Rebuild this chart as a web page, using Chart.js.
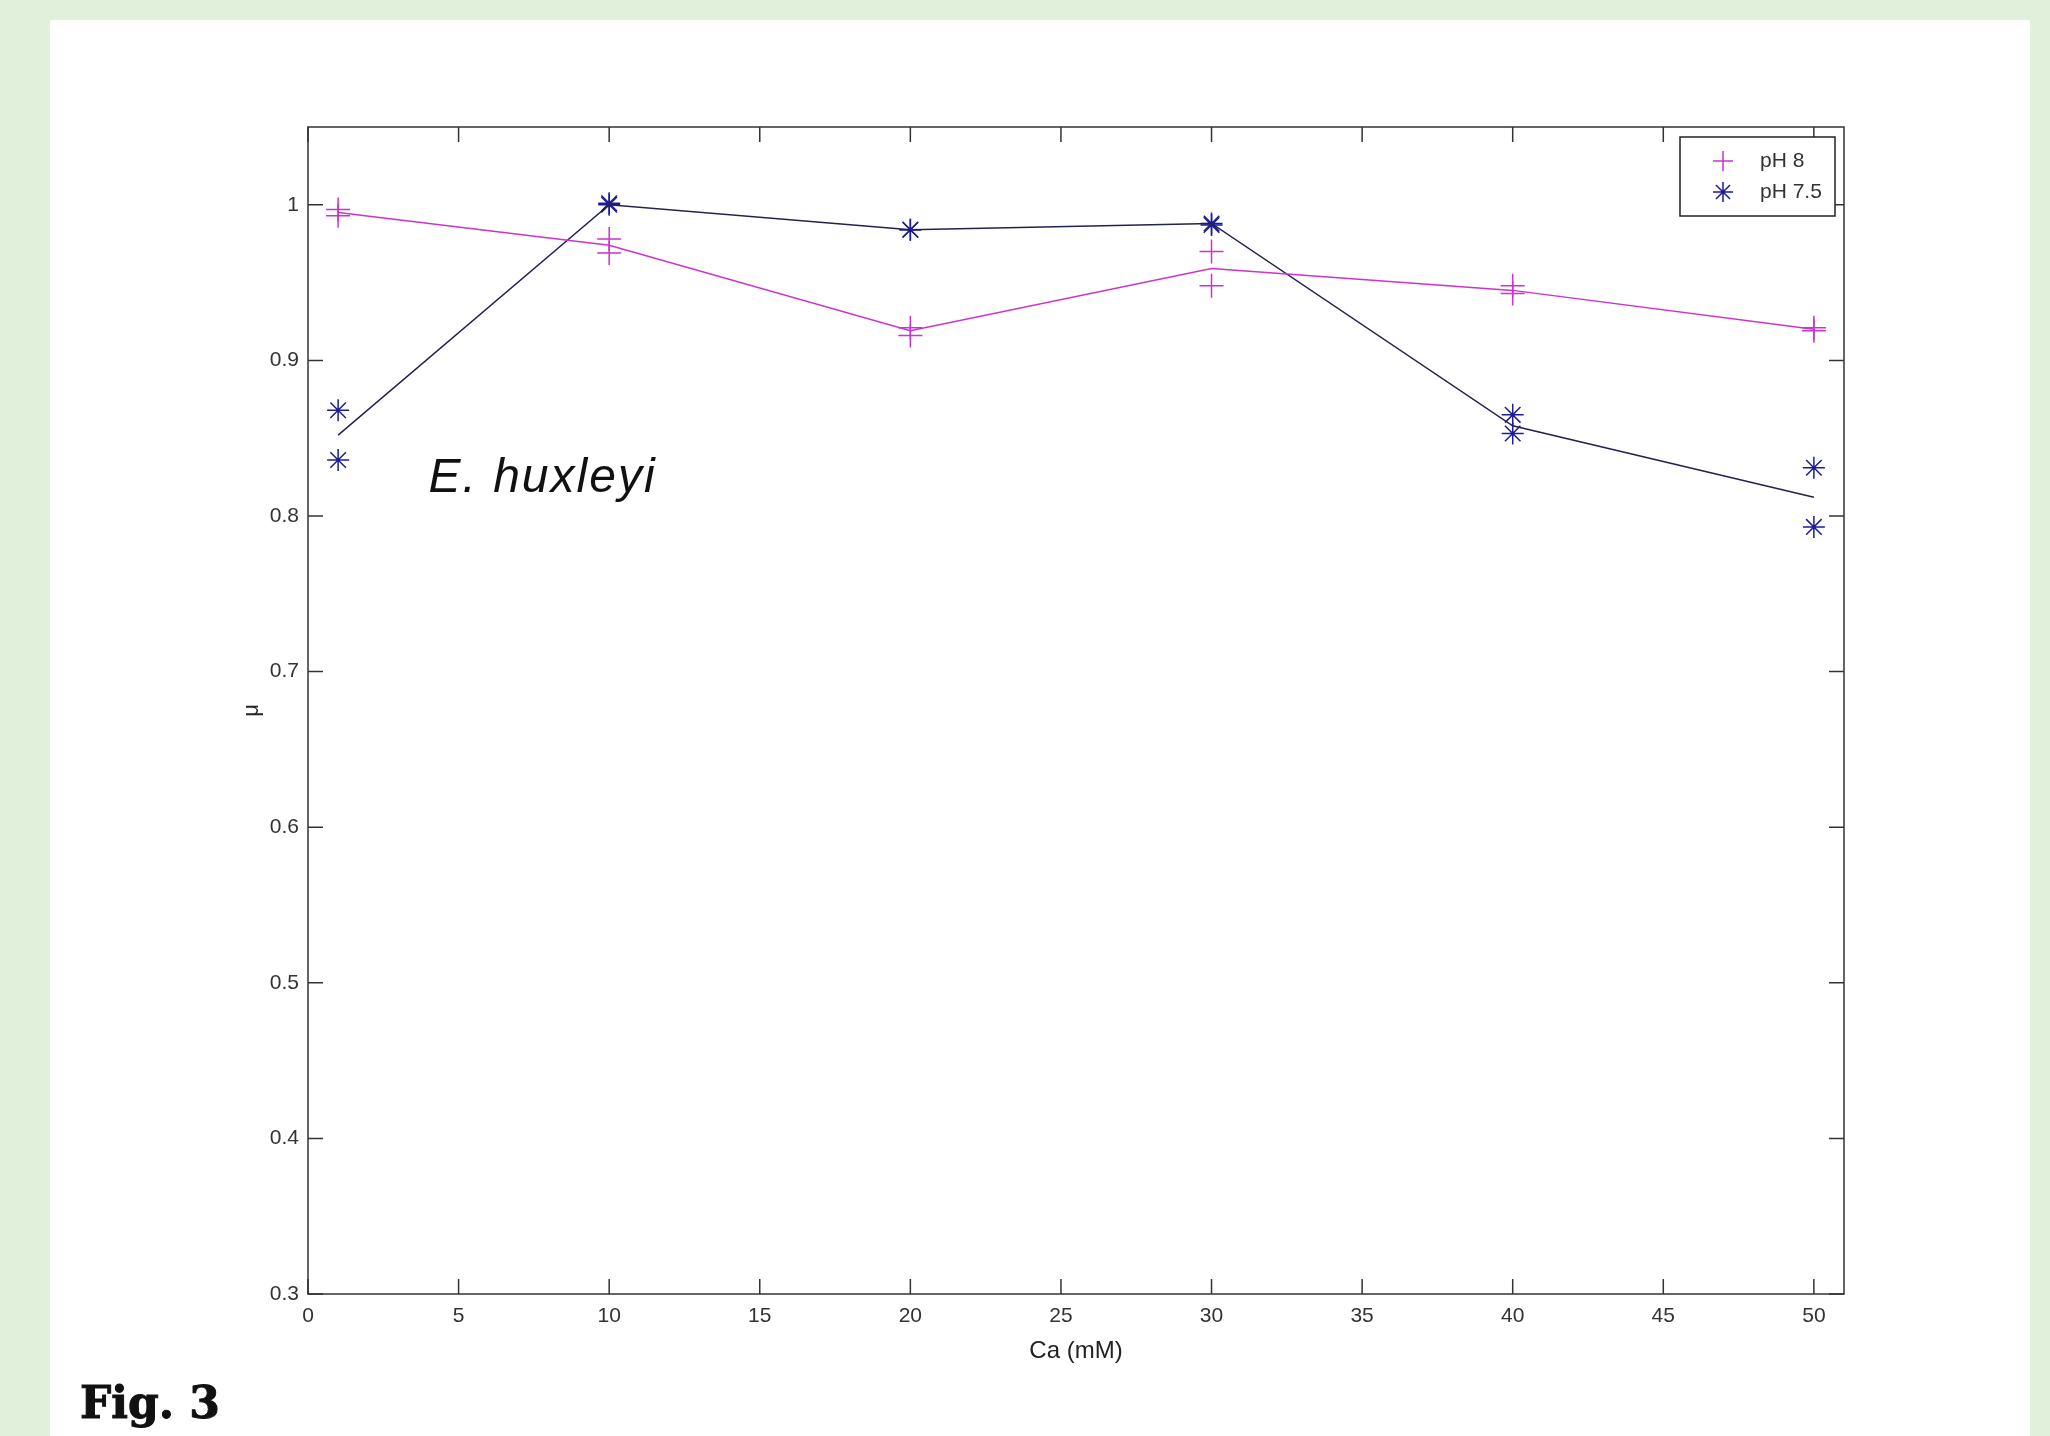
<!DOCTYPE html>
<html>
<head>
<meta charset="utf-8">
<script src="https://cdn.jsdelivr.net/npm/chart.js@4.4.1/dist/chart.umd.min.js"></script>
<style>
  body { margin: 0; width: 2050px; height: 1436px; background: #e1f0da; position: relative; overflow: hidden; }
  #panel { position: absolute; left: 50px; top: 20px; width: 1980px; height: 1416px; background: #fff; }
  #wrap { position: absolute; left: 0; top: 0; width: 2050px; height: 1436px; }
  #fig { position: absolute; left: 80px; top: 1381px; font: bold 44px/44px "DejaVu Serif", serif; color: #111; -webkit-text-stroke: 1px #111; }
</style>
</head>
<body>
<div id="panel"></div>
<div id="wrap"><canvas id="growth-chart" width="2050" height="1436"></canvas></div>
<div id="fig">Fig. 3</div>
<script>
// Ca concentrations (mM)
const caLevels = [1, 10, 20, 30, 40, 50];

// growth rate, two replicates per point + the line through them
const ph8RepA = [0.997, 0.978, 0.921, 0.970, 0.948, 0.921];
const ph8RepB = [0.993, 0.969, 0.916, 0.948, 0.943, 0.919];
const ph8Line = [0.995, 0.974, 0.919, 0.959, 0.945, 0.920];

const ph75RepA = [0.868, 1.001, 0.984, 0.988, 0.865, 0.831];
const ph75RepB = [0.836, 1.000, 0.984, 0.987, 0.853, 0.793];
const ph75Line = [0.852, 1.000, 0.984, 0.988, 0.858, 0.812];

// axis ticks
const xTicks = [0, 5, 10, 15, 20, 25, 30, 35, 40, 45, 50];
const yTicks = [0.3, 0.4, 0.5, 0.6, 0.7, 0.8, 0.9, 1];

const magenta = '#cc33cc';
const navy = '#1c1c96';
const navyLine = '#22224e';

const toPoints = arr => caLevels.map((x, i) => ({ x: x, y: arr[i] }));

// matlab style box with inward ticks on all four sides
const framePlugin = {
    id: 'frame',
    beforeDatasetsDraw(chart) {
        const { ctx, chartArea: a, scales: { x, y } } = chart;
        const len = 15;
        ctx.save();
        ctx.strokeStyle = '#333';
        ctx.lineWidth = 1.5;
        ctx.strokeRect(a.left, a.top, a.width, a.height);
        ctx.beginPath();
        x.ticks.forEach(t => {
            const px = x.getPixelForValue(t.value);
            ctx.moveTo(px, a.bottom); ctx.lineTo(px, a.bottom - len);
            ctx.moveTo(px, a.top); ctx.lineTo(px, a.top + len);
        });
        y.ticks.forEach(t => {
            const py = y.getPixelForValue(t.value);
            ctx.moveTo(a.left, py); ctx.lineTo(a.left + len, py);
            ctx.moveTo(a.right, py); ctx.lineTo(a.right - len, py);
        });
        ctx.stroke();
        ctx.restore();
    }
};

// species name inside the plot
const speciesLabel = {
    id: 'speciesLabel',
    afterDatasetsDraw(chart) {
        const { ctx, scales: { x, y } } = chart;
        ctx.save();
        ctx.font = 'italic 48px "Liberation Sans", Arial, sans-serif';
        ctx.letterSpacing = '2px';
        ctx.fillStyle = '#111';
        ctx.textAlign = 'left';
        ctx.textBaseline = 'alphabetic';
        ctx.fillText('E. huxleyi', x.getPixelForValue(4), y.getPixelForValue(0.8156));
        ctx.restore();
    }
};

// boxed legend in the top right corner, markers only
const legendBox = {
    id: 'legendBox',
    afterDraw(chart) {
        const { ctx, chartArea: a } = chart;
        const items = chart.data.datasets.filter(d => d.showLine === false);
        const w = 155, h = 79;
        const left = a.right - 9 - w, top = a.top + 10;
        ctx.save();
        ctx.fillStyle = '#fff';
        ctx.fillRect(left, top, w, h);
        ctx.strokeStyle = '#222';
        ctx.lineWidth = 1.5;
        ctx.strokeRect(left, top, w, h);
        ctx.font = '21px "Liberation Sans", Arial, sans-serif';
        ctx.textBaseline = 'middle';
        items.forEach((d, i) => {
            const cy = top + 24 + i * 31;
            ctx.strokeStyle = d.borderColor;
            Chart.helpers.drawPoint(ctx, { pointStyle: d.pointStyle, radius: 10, borderWidth: 1.5, rotation: 0 }, left + 43, cy);
            ctx.fillStyle = '#333';
            ctx.fillText(d.label, left + 80, cy);
        });
        ctx.restore();
    }
};

const tickFont = { family: '"Liberation Sans", Arial, sans-serif', size: 21 };

new Chart(document.getElementById('growth-chart').getContext('2d'), {
    type: 'line',
    data: {
        datasets: [
            { label: 'pH 8 line', data: toPoints(ph8Line), borderColor: magenta, borderWidth: 1.5, pointRadius: 0, tension: 0 },
            { label: 'pH 8', data: toPoints(ph8RepA).concat(toPoints(ph8RepB)), showLine: false,
              pointStyle: 'cross', pointRadius: 12, borderColor: magenta, backgroundColor: magenta, pointBorderWidth: 1.5 },
            { label: 'pH 7.5 line', data: toPoints(ph75Line), borderColor: navyLine, borderWidth: 1.5, pointRadius: 0, tension: 0 },
            { label: 'pH 7.5', data: toPoints(ph75RepA).concat(toPoints(ph75RepB)), showLine: false,
              pointStyle: 'star', pointRadius: 11, borderColor: navy, backgroundColor: navy, pointBorderWidth: 1.5 }
        ]
    },
    options: {
        responsive: false,
        animation: false,
        layout: { padding: { left: 237, top: 127, right: 206, bottom: 0 } },
        plugins: {
            legend: { display: false },
            tooltip: { enabled: false }
        },
        scales: {
            x: {
                type: 'linear',
                min: 0,
                max: 51,
                afterBuildTicks: s => { s.ticks = xTicks.map(v => ({ value: v })); },
                afterFit: s => { s.height = 142; },
                grid: { display: false, drawTicks: false, tickLength: 0 },
                border: { display: false },
                ticks: { font: tickFont, color: '#333', padding: 10, maxRotation: 0, autoSkip: false, callback: v => String(v) },
                title: { display: true, text: 'Ca (mM)', color: '#222',
                         font: { family: '"Liberation Sans", Arial, sans-serif', size: 24 }, padding: { top: 0, bottom: 70 } }
            },
            y: {
                type: 'linear',
                min: 0.3,
                max: 1.05,
                afterBuildTicks: s => { s.ticks = yTicks.map(v => ({ value: v })); },
                afterFit: s => { s.width = 71; },
                grid: { display: false, drawTicks: false, tickLength: 0 },
                border: { display: false },
                ticks: { font: tickFont, color: '#333', padding: 9, autoSkip: false,
                         callback: v => String(Math.round(v * 10) / 10) },
                title: { display: true, text: 'μ', color: '#222',
                         font: { family: '"Liberation Sans", Arial, sans-serif', size: 22 }, padding: { top: 2, bottom: 0 } }
            }
        }
    },
    plugins: [framePlugin, speciesLabel, legendBox]
});
</script>
</body>
</html>
